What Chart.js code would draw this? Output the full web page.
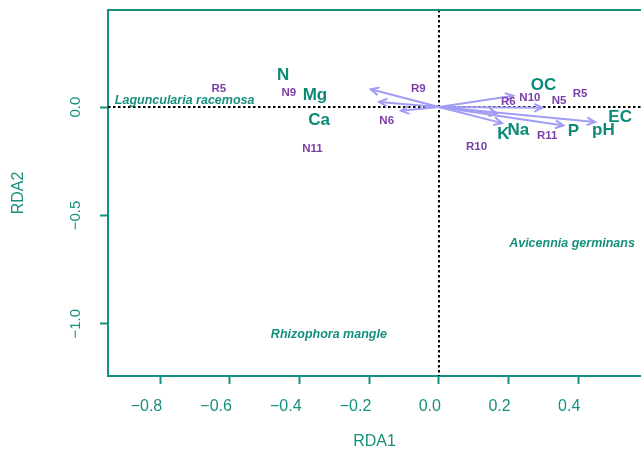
<!DOCTYPE html>
<html>
<head>
<meta charset="utf-8">
<script src="https://cdn.jsdelivr.net/npm/chart.js@4.4.1/dist/chart.umd.min.js"></script>
<style>
  html, body { margin: 0; padding: 0; background: #fff; overflow: hidden; }
  #wrap { width: 641px; height: 451px; }
</style>
</head>
<body>
<div id="wrap"><canvas id="rdaChart"></canvas></div>
<script>
// species scores
const speciesNames = ['Laguncularia racemosa', 'Avicennia germinans', 'Rhizophora mangle'];
const speciesX = [-0.730, 0.382, -0.316];
const speciesY = [0.029, -0.628, -1.052];

// site scores
const siteNames = ['R5', 'N9', 'R9', 'N6', 'N11', 'R6', 'N10', 'N5', 'R5', 'R11', 'R10'];
const siteX = [-0.632, -0.431, -0.059, -0.150, -0.363, 0.199, 0.261, 0.345, 0.405, 0.311, 0.108];
const siteY = [0.082, 0.068, 0.082, -0.065, -0.191, 0.022, 0.045, 0.029, 0.063, -0.134, -0.183];

// environmental variables: arrow tips and label positions
const envNames = ['N', 'Mg', 'Ca', 'OC', 'EC', 'Na', 'K', 'P', 'pH'];
const arrowX = [-0.196, -0.172, -0.109, 0.214, 0.297, 0.167, 0.181, 0.357, 0.448];
const arrowY = [0.082, 0.024, -0.017, 0.052, -0.003, -0.028, -0.074, -0.085, -0.069];
const envX = [-0.447, -0.356, -0.344, 0.300, 0.520, 0.228, 0.185, 0.386, 0.472];
const envY = [0.148, 0.055, -0.060, 0.102, -0.045, -0.109, -0.125, -0.114, -0.106];

// axis ticks
const xTicks = [-0.8, -0.6, -0.4, -0.2, 0.0, 0.2, 0.4];
const yTicks = [-1.0, -0.5, 0.0];

const teal = '#16907e';
const envColor = '#0b8a77';
const siteColor = '#7a3ea8';
const arrowColor = '#a19df5';

const fmt = v => (Math.abs(v) < 1e-9 ? '0.0' : v.toFixed(1).replace('-', '\u2212'));

// one dataset per arrow, origin -> tip
const arrowSets = envNames.map((n, i) => ({
    label: n,
    data: [{ x: 0, y: 0 }, { x: arrowX[i], y: arrowY[i] }],
    showLine: true,
    borderColor: arrowColor,
    borderWidth: 2,
    pointRadius: 0,
    isArrow: true
}));

const biplotPlugin = {
    id: 'biplot',
    beforeDatasetsDraw(chart) {
        const { ctx, chartArea: a, scales: { x, y } } = chart;
        ctx.save();
        ctx.strokeStyle = '#000';
        ctx.lineWidth = 2;
        ctx.setLineDash([2.5, 2.5]);
        const x0 = x.getPixelForValue(0), y0 = y.getPixelForValue(0);
        ctx.beginPath();
        ctx.moveTo(a.left, y0); ctx.lineTo(a.right, y0);
        ctx.moveTo(x0, a.top); ctx.lineTo(x0, a.bottom);
        ctx.stroke();
        ctx.restore();
    },
    afterDatasetsDraw(chart) {
        const { ctx, chartArea: a, scales: { x, y } } = chart;
        ctx.save();
        // arrow heads
        chart.data.datasets.forEach((ds, i) => {
            if (!ds.isArrow) return;
            const pts = chart.getDatasetMeta(i).data;
            const p0 = pts[0], p1 = pts[1];
            const ang = Math.atan2(p1.y - p0.y, p1.x - p0.x);
            const len = 9, spread = Math.PI / 7;
            ctx.strokeStyle = arrowColor;
            ctx.lineWidth = 2;
            ctx.beginPath();
            ctx.moveTo(p1.x - len * Math.cos(ang - spread), p1.y - len * Math.sin(ang - spread));
            ctx.lineTo(p1.x, p1.y);
            ctx.lineTo(p1.x - len * Math.cos(ang + spread), p1.y - len * Math.sin(ang + spread));
            ctx.stroke();
        });
        ctx.textAlign = 'center';
        ctx.textBaseline = 'middle';
        // site labels
        ctx.fillStyle = siteColor;
        ctx.font = 'bold 11.5px "Liberation Sans", Arial, sans-serif';
        siteNames.forEach((n, i) => ctx.fillText(n, x.getPixelForValue(siteX[i]), y.getPixelForValue(siteY[i])));
        // environmental labels
        ctx.fillStyle = envColor;
        ctx.font = 'bold 17px "Liberation Sans", Arial, sans-serif';
        envNames.forEach((n, i) => ctx.fillText(n, x.getPixelForValue(envX[i]), y.getPixelForValue(envY[i])));
        // species labels
        ctx.fillStyle = teal;
        ctx.font = 'italic bold 12.5px "Liberation Sans", Arial, sans-serif';
        speciesNames.forEach((n, i) => ctx.fillText(n, x.getPixelForValue(speciesX[i]), y.getPixelForValue(speciesY[i])));
        // top frame line
        ctx.strokeStyle = teal;
        ctx.lineWidth = 2;
        ctx.beginPath();
        ctx.moveTo(a.left - 1, a.top); ctx.lineTo(a.right, a.top);
        ctx.stroke();
        ctx.restore();
    }
};

new Chart(document.getElementById('rdaChart'), {
    type: 'scatter',
    data: { datasets: arrowSets },
    options: {
        responsive: true,
        maintainAspectRatio: false,
        animation: false,
        layout: { padding: { top: 10, right: 0, left: 0, bottom: 0 } },
        plugins: { legend: { display: false }, tooltip: { enabled: false } },
        scales: {
            x: {
                type: 'linear',
                min: -0.950,
                max: 0.580,
                afterBuildTicks: s => { s.ticks = xTicks.map(v => ({ value: v })); },
                afterFit: s => { s.height = 75; s.paddingLeft = 0; s.paddingRight = 0; },
                border: { color: teal, width: 2 },
                grid: { drawOnChartArea: false, tickColor: teal, tickLength: 8, tickWidth: 2 },
                ticks: {
                    color: teal,
                    font: { family: '"Liberation Sans", Arial, sans-serif', size: 16 },
                    padding: 13,
                    align: 'end',
                    labelOffset: 2,
                    maxRotation: 0,
                    callback: v => fmt(v)
                },
                title: {
                    display: true,
                    text: 'RDA1',
                    color: teal,
                    font: { family: '"Liberation Sans", Arial, sans-serif', size: 16 },
                    padding: { top: 0, bottom: 0 }
                }
            },
            y: {
                type: 'linear',
                min: -1.241,
                max: 0.448,
                afterBuildTicks: s => { s.ticks = yTicks.map(v => ({ value: v })); },
                afterFit: s => { s.width = 108; s.paddingTop = 0; s.paddingBottom = 0; },
                border: { color: teal, width: 2 },
                grid: { drawOnChartArea: false, tickColor: teal, tickLength: 8, tickWidth: 2 },
                ticks: {
                    color: teal,
                    font: { family: '"Liberation Sans", Arial, sans-serif', size: 15 },
                    padding: 9,
                    minRotation: 90,
                    maxRotation: 90,
                    crossAlign: 'center',
                    callback: v => fmt(v)
                },
                title: {
                    display: true,
                    text: 'RDA2',
                    color: teal,
                    font: { family: '"Liberation Sans", Arial, sans-serif', size: 16 },
                    padding: { top: 9, bottom: 0 }
                }
            }
        }
    },
    plugins: [biplotPlugin]
});
</script>
</body>
</html>
